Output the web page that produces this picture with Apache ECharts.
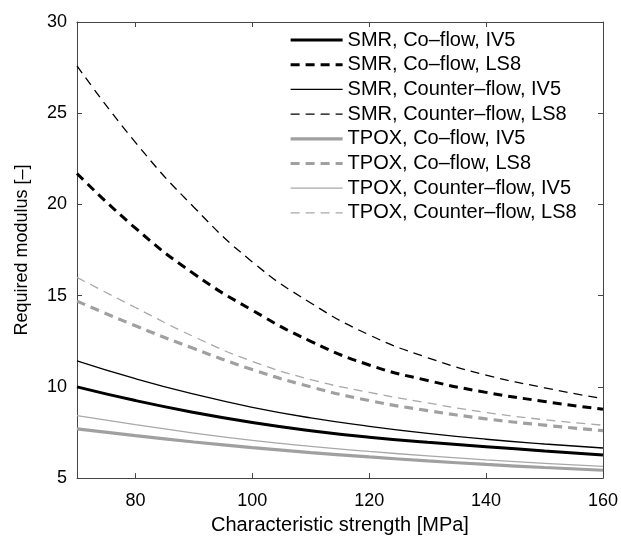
<!DOCTYPE html>
<html>
<head>
<meta charset="utf-8">
<script src="https://cdn.jsdelivr.net/npm/echarts@6/dist/echarts.min.js"></script>
<style>
html,body{margin:0;padding:0;background:#fff;}
#chart{width:621px;height:540px;}
</style>
</head>
<body>
<div id="chart"></div>
<script>
const strength = [70, 80, 90, 100, 110, 120, 130, 140, 150, 160];
const seriesNames = [
  "SMR, Co\u2013flow, IV5",
  "SMR, Co\u2013flow, LS8",
  "SMR, Counter\u2013flow, IV5",
  "SMR, Counter\u2013flow, LS8",
  "TPOX, Co\u2013flow, IV5",
  "TPOX, Co\u2013flow, LS8",
  "TPOX, Counter\u2013flow, IV5",
  "TPOX, Counter\u2013flow, LS8"
];
const smrCoIV5 = [10.0, 9.25, 8.6, 8.05, 7.6, 7.24, 6.96, 6.72, 6.49, 6.27];
const smrCoLS8 = [21.7, 18.7, 16.2, 14.2, 12.5, 11.2, 10.35, 9.7, 9.2, 8.77];
const smrCounterIV5 = [11.43, 10.45, 9.6, 8.88, 8.3, 7.84, 7.45, 7.13, 6.87, 6.65];
const smrCounterLS8 = [27.6, 23.4, 19.85, 16.85, 14.6, 12.85, 11.6, 10.65, 9.95, 9.35];
const tpoxCoIV5 = [7.7, 7.33, 6.98, 6.67, 6.4, 6.16, 5.94, 5.75, 5.58, 5.43];
const tpoxCoLS8 = [14.7, 13.35, 12.1, 10.95, 10.0, 9.25, 8.7, 8.25, 7.9, 7.6];
const tpoxCounterIV5 = [8.43, 7.93, 7.47, 7.07, 6.74, 6.46, 6.22, 6.0, 5.81, 5.64];
const tpoxCounterLS8 = [16.0, 14.35, 12.75, 11.4, 10.4, 9.7, 9.12, 8.6, 8.2, 7.9];
const xTicks = [80, 100, 120, 140, 160];
const yTicks = [5, 10, 15, 20, 25, 30];
const xLabel = "Characteristic strength [MPa]";
const yLabel = "Required modulus [\u2013]";

const values = [smrCoIV5, smrCoLS8, smrCounterIV5, smrCounterLS8, tpoxCoIV5, tpoxCoLS8, tpoxCounterIV5, tpoxCounterLS8];
const styles = [
  {color:'#000000', width:3, type:'solid'},
  {color:'#000000', width:3, type:[9,6]},
  {color:'#000000', width:1.3, type:'solid'},
  {color:'#000000', width:1.3, type:[9,6]},
  {color:'#a0a0a0', width:3.2, type:'solid'},
  {color:'#a0a0a0', width:3.2, type:[9,6]},
  {color:'#a8a8a8', width:1.3, type:'solid'},
  {color:'#a8a8a8', width:1.3, type:[9,6]}
];
const FONT = 'Liberation Sans, Arial, Helvetica, sans-serif';
const axisColor = '#444';

const series = seriesNames.map((n, i) => ({
  name: n,
  type: 'line',
  symbol: 'none',
  symbolSize: 0,
  smooth: 0.5,
  data: strength.map((x, j) => [x, values[i][j]]),
  lineStyle: {color: styles[i].color, width: styles[i].width, type: styles[i].type},
  itemStyle: {color: styles[i].color},
  z: 10 - i
}));

const legendData = seriesNames.map((n, i) => ({
  name: n,
  itemStyle: {opacity: 0},
  lineStyle: {color: styles[i].color, width: styles[i].width, type: styles[i].type}
}));

const chart = echarts.init(document.getElementById('chart'), null, {renderer:'canvas'});
chart.setOption({
  animation: false,
  backgroundColor: '#fff',
  grid: {left: 77, right: 17, top: 22, bottom: 57, containLabel: false},
  legend: {
    orient: 'vertical',
    left: 289,
    top: 30,
    padding: 0,
    itemWidth: 52,
    itemHeight: 14,
    itemGap: 4.7,
    textStyle: {fontFamily: FONT, fontSize: 20, color: '#000', lineHeight: 20},
    data: legendData
  },
  xAxis: [{
    type: 'value', min: 70, max: 160,
    position: 'bottom',
    name: xLabel, nameLocation: 'middle', nameGap: 33,
    nameTextStyle: {fontFamily: FONT, fontSize: 20, color: '#000', lineHeight: 20},
    axisLine: {show: true, lineStyle: {color: axisColor, width: 1}},
    axisTick: {show: true, inside: true, length: 5, customValues: xTicks, lineStyle: {color: axisColor}},
    axisLabel: {show: true, customValues: xTicks, margin: 14, fontFamily: FONT, fontSize: 18, color: '#000'},
    splitLine: {show: false}
  }, {
    type: 'value', min: 70, max: 160,
    position: 'top',
    axisLine: {show: true, lineStyle: {color: axisColor, width: 1}},
    axisTick: {show: true, inside: true, length: 5, customValues: xTicks, lineStyle: {color: axisColor}},
    axisLabel: {show: false},
    splitLine: {show: false}
  }],
  yAxis: [{
    type: 'value', min: 5, max: 30, interval: 5,
    position: 'left',
    name: yLabel, nameLocation: 'middle', nameGap: 46,
    nameTextStyle: {fontFamily: FONT, fontSize: 18, color: '#000'},
    axisLine: {show: true, lineStyle: {color: axisColor, width: 1}},
    axisTick: {show: true, inside: true, length: 5, lineStyle: {color: axisColor}},
    axisLabel: {show: true, margin: 10, fontFamily: FONT, fontSize: 18, color: '#000'},
    splitLine: {show: false}
  }, {
    type: 'value', min: 5, max: 30, interval: 5,
    position: 'right',
    axisLine: {show: true, lineStyle: {color: axisColor, width: 1}},
    axisTick: {show: true, inside: true, length: 5, lineStyle: {color: axisColor}},
    axisLabel: {show: false},
    splitLine: {show: false}
  }],
  series: series
});
</script>
</body>
</html>
